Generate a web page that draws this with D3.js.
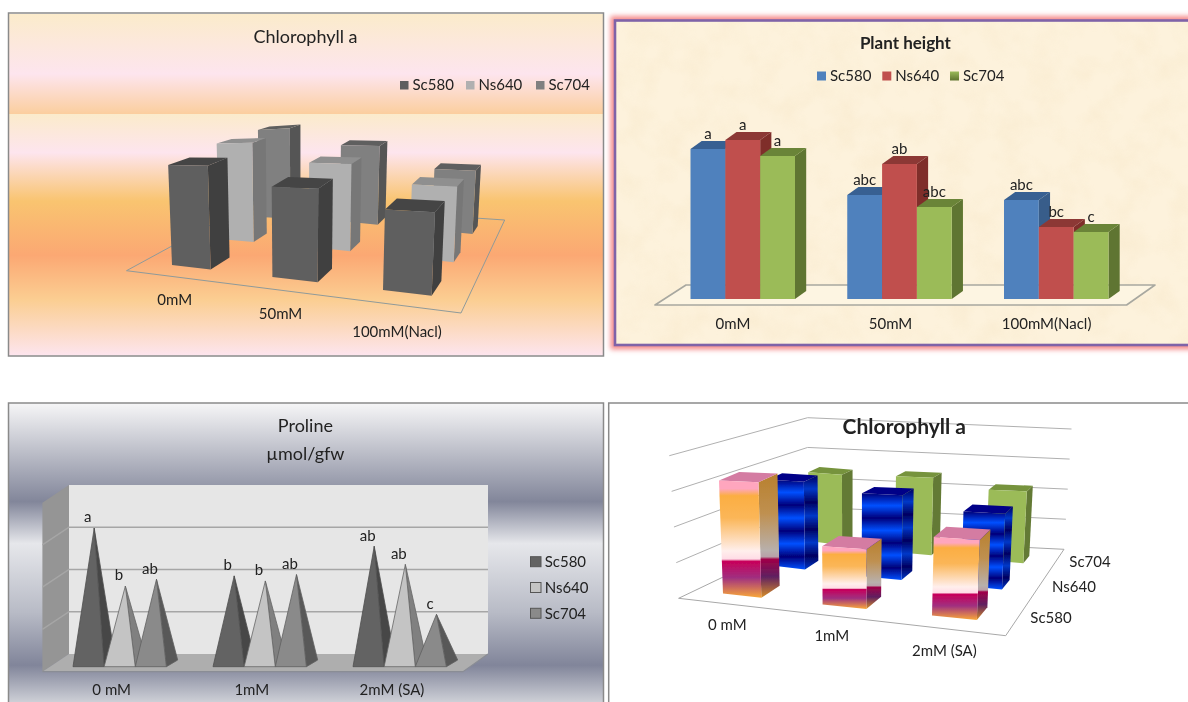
<!DOCTYPE html>
<html><head><meta charset="utf-8">
<style>html,body{margin:0;padding:0;background:#fff;overflow:hidden}svg{display:block}text{font-family:Lato,"Noto Sans",sans-serif;fill:#222}</style>
<script src="https://cdn.jsdelivr.net/npm/d3@7/dist/d3.min.js"></script></head><body>
<script>
// ---------- DATA ----------
const seriesNames = ["Sc580","Ns640","Sc704"];
const saltCats = ["0mM","50mM","100mM(Nacl)"];
const chlSaltSc580 = [10.0,8.2,6.7];
const chlSaltNs640 = [10.5,8.4,6.7];
const chlSaltSc704 = [10.6,8.4,6.2];
const heightSc580 = [150,104,99];
const heightNs640 = [159,135,72];
const heightSc704 = [143,92,67];
const heightLabels = [["a","abc","abc"],["a","ab","bc"],["a","abc","c"]];
const saCats3 = ["0 mM","1mM","2mM (SA)"];
const prolineSc580 = [3.2,2.07,2.77];
const prolineNs640 = [1.83,1.95,2.34];
const prolineSc704 = [1.99,2.1,1.16];
const prolineLabels = [["a","b","ab"],["b","b","ab"],["ab","ab","c"]];
const chlSaSc580 = [11.3,5.5,7.0];
const chlSaNs640 = [9.2,8.4,7.1];
const chlSaSc704 = [8.0,8.3,7.3];

// ---------- SETUP ----------
const W=1188,H=702;
const svg=d3.select("body").append("svg").attr("width",W).attr("height",H);
const defs=svg.append("defs");
const soft=defs.append("filter").attr("id","soft").attr("filterUnits","userSpaceOnUse").attr("x",0).attr("y",0).attr("width",W).attr("height",H);
soft.append("feGaussianBlur").attr("stdDeviation",0.45);
const root=svg.append("g").attr("filter","url(#soft)");
root.append("rect").attr("width",W).attr("height",H).attr("fill","#fff");

function grad(id,stops){
  const g=defs.append("linearGradient").attr("id",id).attr("x1",0).attr("y1",0).attr("x2",0).attr("y2",1);
  stops.forEach(([o,c])=>g.append("stop").attr("offset",o).attr("stop-color",c));
  return `url(#${id})`;
}
function label(g,x,y,t,size,opt={}){
  return g.append("text").attr("x",x).attr("y",y).attr("dy","0.35em").attr("text-anchor",opt.anchor||"middle")
    .attr("font-size",size).attr("font-weight",opt.weight||"normal").attr("fill",opt.fill||"#222").text(t);
}
const line=d3.line();
function poly(g,pts,fill,stroke,sw){
  return g.append("path").attr("d",line(pts)+"Z").attr("fill",fill).attr("stroke",stroke||"none").attr("stroke-width",sw||0).attr("stroke-linejoin","round");
}
// Draw perspective boxes from a floor grid built from d3 scales
function boxes(g,c){
  const dom=[0,1,2];
  const ux0=d3.scaleLinear().domain(dom).range(c.frontX), uy0=d3.scaleLinear().domain(dom).range(c.frontY);
  const ux2=d3.scaleLinear().domain(dom).range(c.backX), uy2=d3.scaleLinear().domain(dom).range(c.backY);
  const mix=d3.scaleLinear().domain(dom).range([0,c.mid,1]);
  const su=d3.scaleLinear().domain([0,2]).range([1,c.growU]), sv=d3.scaleLinear().domain([0,2]).range([1,c.shrinkV]);
  const yS=d3.scaleLinear().domain([0,c.maxV]).range([0,c.maxPx]);
  const P=(u,v,val)=>{
    const t=mix(v),bx=ux0(u)*(1-t)+ux2(u)*t,by=uy0(u)*(1-t)+uy2(u)*t;
    const h=yS(val)*su(u)*sv(v);
    return [bx+(bx-c.leanC)*h*c.lean,by-h];
  };
  [2,1,0].forEach(s=>{
    c.values[s].forEach((val,i)=>{
      const a=i,b=i+c.bw[i],f=s,k=s+c.bd[s],st=c.styles[s];
      const bot=[P(a,f,0),P(b,f,0),P(b,k,0),P(a,k,0)],top=[P(a,f,val),P(b,f,val),P(b,k,val),P(a,k,val)];
      poly(g,[bot[1],bot[2],top[2],top[1]],st.side);
      poly(g,[top[0],top[1],top[2],top[3]],st.top);
      poly(g,[bot[0],bot[1],top[1],top[0]],st.front);
    });
  });
}

// ---------- PANEL 1 : Chlorophyll a (salt) ----------
{
  const g=root.append("g");
  const top=grad("p1a",[[0,"#FBEBCB"],[0.6,"#FDE5EE"],[1,"#FBCE9E"]]);
  const low=grad("p1b",[[0,"#FBEBCB"],[0.16,"#FDE5EE"],[0.36,"#F9C470"],[0.585,"#FBA873"],[0.77,"#FBCE92"],[1,"#FDE5EE"]]);
  g.append("rect").attr("x",9).attr("y",14).attr("width",594).attr("height",100).attr("fill",top);
  g.append("rect").attr("x",9).attr("y",114).attr("width",594).attr("height",241.5).attr("fill",low);
  g.append("rect").attr("x",8.5).attr("y",13).attr("width",595).attr("height",343).attr("fill","none").attr("stroke","#8a8a8a").attr("stroke-width",1.5);
  poly(g,[[126.5,270.7],[461,313],[504.7,220],[251,203]],"none","#8f9a9a",1);
  boxes(g,{frontX:[172,272.4,383],frontY:[265,277,290],backX:[259,340,432],backY:[217,221,230],mid:0.54,
    bw:[0.385,0.41,0.44],bd:[0.44,0.36,0.28],growU:1.2,shrinkV:0.82,maxV:10,maxPx:100,leanC:300,lean:0.0003,
    values:[chlSaltSc580,chlSaltNs640,chlSaltSc704],
    styles:[{front:"#5F5F5F",side:"#3F3F3F",top:"#454545"},{front:"#B0B0B0",side:"#777777",top:"#8F8F8F"},{front:"#808080",side:"#555555",top:"#5E5E5E"}]});
  label(g,305.5,36.5,"Chlorophyll a",18);
  const lx=d3.scaleOrdinal().domain(seriesNames).range([400,466,536]), lc=["#5F5F5F","#B0B0B0","#808080"];
  seriesNames.forEach((s,i)=>{
    g.append("rect").attr("x",lx(s)).attr("y",81).attr("width",8.5).attr("height",8.5).attr("fill",lc[i]);
    label(g,lx(s)+12.5,85,s,15,{anchor:"start"});
  });
  const cx=[174.7,280.5,397],cy=[300,314,331.7];
  saltCats.forEach((t,i)=>label(g,cx[i],cy[i],t,15));
}

// ---------- PANEL 2 : Plant height ----------
{
  const g=root.append("g");
  const glow=defs.append("filter").attr("id","glow").attr("x",-0.05).attr("y",-0.08).attr("width",1.1).attr("height",1.16);
  glow.append("feGaussianBlur").attr("stdDeviation",2.5);
  const tex=defs.append("filter").attr("id","tex").attr("x",0).attr("y",0).attr("width",1).attr("height",1);
  tex.append("feTurbulence").attr("type","fractalNoise").attr("baseFrequency",0.035).attr("numOctaves",3).attr("seed",7);
  tex.append("feColorMatrix").attr("type","matrix").attr("values","0 0 0 0 0.93  0 0 0 0 0.80  0 0 0 0 0.58  1.6 0 0 0 -0.62");
  g.append("rect").attr("x",615).attr("y",20.5).attr("width",640).attr("height",324.5).attr("fill","none").attr("stroke","#F58C8C").attr("stroke-width",9).attr("filter","url(#glow)");
  g.append("rect").attr("x",615).attr("y",20.5).attr("width",640).attr("height",324.5).attr("fill","#FDF2DC");
  g.append("rect").attr("x",615).attr("y",20.5).attr("width",640).attr("height",324.5).attr("fill","#fff").attr("filter","url(#tex)").attr("opacity",0.55);
  g.append("rect").attr("x",615).attr("y",20.5).attr("width",640).attr("height",324.5).attr("fill","none").attr("stroke","#7F63A8").attr("stroke-width",2.6);
  poly(g,[[655,305],[1126.6,305],[1155,285],[686,285]],"#FDF5E2","#A8A8A0",1.6);
  const x0=d3.scalePoint().domain(saltCats).range([690.5,1004]);
  const x1=d3.scaleBand().domain(seriesNames).range([0,104.5]);
  const y=d3.scaleLinear().domain([0,160]).range([299,139]);
  const vals=[heightSc580,heightNs640,heightSc704];
  const st=[{front:"#4F81BD",side:"#385D8A",top:"#376092"},{front:"#C0504D",side:"#7F2F2C",top:"#8C3836"},{front:"#9BBB59",side:"#5F7530",top:"#6A8437"}];
  const dx=11.2,dy=-8;
  saltCats.forEach((c,ci)=>{
    seriesNames.forEach((s,si)=>{
      const l=x0(c)+x1(s),r=l+x1.bandwidth(),t=y(vals[si][ci]),b=y(0);
      poly(g,[[r,b],[r+dx,b+dy],[r+dx,t+dy],[r,t]],st[si].side);
      poly(g,[[l,t],[r,t],[r+dx,t+dy],[l+dx,t+dy]],st[si].top);
      poly(g,[[l,b],[r,b],[r,t],[l,t]],st[si].front);
    });
  });
  saltCats.forEach((c,ci)=>seriesNames.forEach((s,si)=>{
    label(g,x0(c)+x1(s)+x1.bandwidth()/2,y(vals[si][ci])-15,heightLabels[si][ci],15);
  }));
  label(g,905.4,42.7,"Plant height",17,{weight:"bold",fill:"#111"});
  const lx=d3.scaleOrdinal().domain(seriesNames).range([817,882.3,950]);
  const lc=[st[0].front,st[1].front,grad("lg2",[[0,"#9BBB59"],[1,"#5F7530"]])];
  seriesNames.forEach((s,i)=>{
    g.append("rect").attr("x",lx(s)).attr("y",71.5).attr("width",9).attr("height",9).attr("fill",lc[i]);
    label(g,lx(s)+13,76,s,15,{anchor:"start"});
  });
  const xl=[733,890.5,1046.6];
  saltCats.forEach((t,i)=>label(g,xl[i],324,t,15));
}

// ---------- PANEL 3 : Proline ----------
{
  const g=root.append("g");
  const bg=grad("p3",[[0,"#F6F6F7"],[0.33,"#82869A"],[0.47,"#E6E7EB"],[0.7,"#B8BBC6"],[0.877,"#81859A"],[1,"#CDCFD6"]]);
  g.append("rect").attr("x",9).attr("y",403).attr("width",594).attr("height",299).attr("fill",bg);
  g.append("rect").attr("x",8.5).attr("y",403).attr("width",595).attr("height",310).attr("fill","none").attr("stroke","#8a8a8a").attr("stroke-width",1.5);
  poly(g,[[69,485],[488,485],[488,654],[69,654]],"#E6E6E6");
  poly(g,[[42.4,502.7],[69,485],[69,654],[42.4,671.7]],"#959595");
  poly(g,[[69,654],[488,654],[463,671.7],[42.4,671.7]],"#AEAEAE");
  const yP=d3.scaleLinear().domain([0,4]).range([0,169]);
  yP.ticks(4).slice(1,-1).forEach(t=>{
    const yy=654-yP(t);
    g.append("path").attr("d",line([[42.4,yy+17.7],[69,yy],[488,yy]])).attr("fill","none").attr("stroke","#A6A6A6").attr("stroke-width",1.5);
  });
  g.append("path").attr("d",line([[42.4,671.7],[463,671.7],[488,654]])).attr("fill","none").attr("stroke","#8A8D95").attr("stroke-width",1.2);
  const x0=d3.scalePoint().domain(saCats3).range([73,353]);
  const x1=d3.scaleBand().domain(seriesNames).range([0,93.4]);
  const vals=[prolineSc580,prolineNs640,prolineSc704];
  const st=[{front:"#636363",side:"#464646",e:"#4F4F4F"},{front:"#C4C4C4",side:"#808080",e:"#666"},{front:"#8A8A8A",side:"#595959",e:"#5f5f5f"}];
  const base=666.7,dx=11.3,dy=-6.7;
  saCats3.forEach((c,ci)=>{
    seriesNames.forEach((s,si)=>{
      const l=x0(c)+x1(s),r=l+x1.bandwidth(),ax=(l+r+dx)/2,ay=base+dy/2-yP(vals[si][ci]);
      poly(g,[[r,base],[r+dx,base+dy],[ax,ay]],st[si].side,st[si].e,0.8);
      poly(g,[[l,base],[r,base],[ax,ay]],st[si].front,st[si].e,0.8);
    });
  });
  saCats3.forEach((c,ci)=>seriesNames.forEach((s,si)=>{
    const l=x0(c)+x1(s),ax=l+(x1.bandwidth()+dx)/2,ay=base+dy/2-yP(vals[si][ci]);
    label(g,ax-6.5,ay-11,prolineLabels[si][ci],15);
  }));
  label(g,305.4,425.7,"Proline",18);
  label(g,305.4,454,"µmol/gfw",18);
  const ly=d3.scalePoint().domain(seriesNames).range([561.7,613.3]);
  const lc=[st[0].front,st[1].front,st[2].front];
  seriesNames.forEach((s,i)=>{
    g.append("rect").attr("x",530.5).attr("y",ly(s)-5).attr("width",10.5).attr("height",10).attr("fill",lc[i]).attr("stroke","#555").attr("stroke-width",1);
    label(g,544.7,ly(s),s,15,{anchor:"start"});
  });
  const xl=[111.7,251.8,392];
  saCats3.forEach((t,i)=>label(g,xl[i],690,t,15));
}

// ---------- PANEL 4 : Chlorophyll a (SA) ----------
{
  const g=root.append("g");
  g.append("rect").attr("x",608.7).attr("y",403).attr("width",640).attr("height",320).attr("fill","#fff").attr("stroke","#8a8a8a").attr("stroke-width",1.5);
  const wallTicks=d3.range(4);
  const lx=d3.scaleLinear().domain([0,4]).range([669.3,678.6]);
  const ly=d3.scaleLinear().domain([0,4]).range([455.7,598.3]);
  const bx=807.6, by=d3.scaleLinear().domain([0,4]).range([417.7,536.7]);
  const rx=d3.scaleLinear().domain([0,4]).range([1071.5,1064]);
  const ry=d3.scaleLinear().domain([0,4]).range([429,549.3]);
  wallTicks.forEach(t=>{
    g.append("path").attr("d",line([[lx(t),ly(t)],[bx,by(t)],[rx(t),ry(t)]])).attr("fill","none").attr("stroke","#B0B0B0").attr("stroke-width",1);
  });
  poly(g,[[678.6,598.3],[1005.7,635.7],[1064,549.3],[807.6,536.7]],"#fff","#A8A8A8",1);
  const s0F=grad("o1",[[0,"#FFA6BE"],[0.07,"#FFA6BE"],[0.13,"#FBAE42"],[0.32,"#FBB658"],[0.6,"#FFEFEC"],[0.67,"#FFDCE6"],[0.69,"#C8005A"],[0.83,"#A03080"],[1,"#F9A838"]]);
  const s0S=grad("o2",[[0,"#B8802E"],[0.32,"#BF9050"],[0.62,"#B8B0AC"],[0.67,"#B8A0A8"],[0.69,"#A00048"],[0.83,"#602060"],[1,"#D89028"]]);
  const blue=[],blueS=[];
  d3.range(8).forEach(i=>{
    blue.push([i/7,i%2?"#0050FF":"#00007A"]);
    blueS.push([i/7,i%2?"#0038C8":"#000060"]);
  });
  const s1F=grad("b1",blue), s1S=grad("b2",blueS);
  boxes(g,{frontX:[723,822.6,932],frontY:[593.5,604.5,615.5],backX:[809,895,986],backY:[541,552,560],mid:0.54,
    bw:[0.385,0.40,0.41],bd:[0.42,0.36,0.28],growU:1.12,shrinkV:0.86,maxV:10,maxPx:100,leanC:850,lean:0.00028,
    values:[chlSaSc580,chlSaNs640,chlSaSc704],
    styles:[{front:s0F,side:s0S,top:"#D47CA2"},{front:s1F,side:s1S,top:"#000088"},{front:"#9BBB59",side:"#647A35",top:"#76933C"}]});
  label(g,904.3,426.7,"Chlorophyll a",21,{weight:"bold",fill:"#111"});
  const cx=[727.3,831.8,944.4],cy=[624.3,635.7,651];
  saCats3.forEach((t,i)=>label(g,cx[i],cy[i],t,15));
  const sx=[1051,1074,1090],sy=[617.3,586.7,561.7];
  seriesNames.forEach((t,i)=>label(g,sx[i],sy[i],t,15));
}
</script></body></html>
